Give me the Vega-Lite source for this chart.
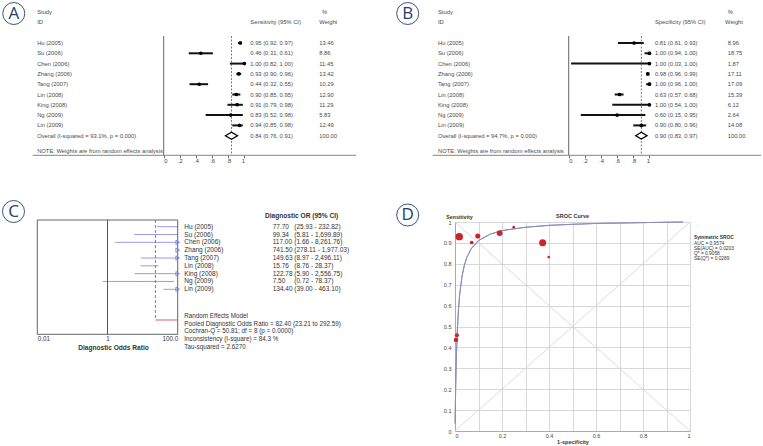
{
"$schema": "https://vega.github.io/schema/vega-lite/v6.json",
"padding": 0,
"background": "white",
"config": {"view": {"stroke": null}, "font": "Liberation Sans"},
"bounds": "flush",
"spacing": 221,
"vconcat": [
{"hconcat": [
{
"width": 380, "height": 154.3,
"data": {"values": [
{"row":1,"study":"Hu (2005)","est":0.95,"lo":0.92,"hi":0.97,"weight":13.46,"ci":"0.95 (0.92, 0.97)","kind":"study"},
{"row":2,"study":"Su (2006)","est":0.46,"lo":0.31,"hi":0.61,"weight":8.86,"ci":"0.46 (0.31, 0.61)","kind":"study"},
{"row":3,"study":"Chen (2006)","est":1.00,"lo":0.82,"hi":1.00,"weight":11.45,"ci":"1.00 (0.82, 1.00)","kind":"study"},
{"row":4,"study":"Zhang (2006)","est":0.93,"lo":0.90,"hi":0.96,"weight":13.42,"ci":"0.93 (0.90, 0.96)","kind":"study"},
{"row":5,"study":"Tang  (2007)","est":0.44,"lo":0.32,"hi":0.55,"weight":10.29,"ci":"0.44 (0.32, 0.55)","kind":"study"},
{"row":6,"study":"Lin (2008)","est":0.90,"lo":0.85,"hi":0.95,"weight":12.90,"ci":"0.90 (0.85, 0.95)","kind":"study"},
{"row":7,"study":"King (2008)","est":0.91,"lo":0.79,"hi":0.98,"weight":11.29,"ci":"0.91 (0.79, 0.98)","kind":"study"},
{"row":8,"study":"Ng (2009)","est":0.83,"lo":0.52,"hi":0.98,"weight":5.83,"ci":"0.83 (0.52, 0.98)","kind":"study"},
{"row":9,"study":"Lin (2009)","est":0.94,"lo":0.85,"hi":0.98,"weight":12.49,"ci":"0.94 (0.85, 0.98)","kind":"study"},
{"row":10,"study":"Overall  (I-squared = 93.1%, p = 0.000)","est":0.84,"lo":0.76,"hi":0.91,"weight":100,"ci":"0.84 (0.76, 0.91)","kind":"pooled"}
]},
"layer": [
{"transform": [{"filter": "datum.kind == 'study'"}],
 "mark": {"type": "rule", "color": "#111", "strokeWidth": 2},
 "encoding": {
  "x": {"field": "lo", "type": "quantitative", "scale": {"domain": [0, 1], "range": [162.7, 243.4], "nice": false, "zero": false},
        "axis": {"values": [0, 0.2, 0.4, 0.6, 0.8, 1], "labelExpr": "datum.value == 0 ? '0' : datum.value == 1 ? '1' : replace(format(datum.value, '.1f'), '0.', '.')", "domain": false, "grid": false, "tickSize": 2.5, "tickColor": "#666", "labelFontSize": 5.8, "labelColor": "#444", "labelPadding": 0, "title": null, "labelOverlap": false}},
  "x2": {"field": "hi"},
  "y": {"field": "row", "type": "quantitative", "scale": {"domain": [1, 10], "range": [42, 134.7], "nice": false, "zero": false}, "axis": null}}},
{"data": {"values": [{}]}, "mark": {"type": "rule", "color": "#555", "strokeWidth": 0.9},
 "encoding": {"x": {"datum": 0}, "y": {"datum": 0.32, "axis": null}, "y2": {"datum": 11.903}}},
{"data": {"values": [{}]}, "mark": {"type": "rule", "color": "#777", "strokeWidth": 0.9},
 "encoding": {"x": {"datum": -1.623}, "x2": {"datum": 2.383}, "y": {"datum": 11.903, "axis": null}}},
{"transform": [{"filter": "datum.kind == 'pooled'"}], "mark": {"type": "rule", "color": "#555", "strokeWidth": 0.8, "strokeDash": [2, 1.5]},
 "encoding": {"x": {"field": "est", "type": "quantitative"}, "y": {"datum": 0.32, "axis": null}, "y2": {"datum": 11.903}}},
{"transform": [{"filter": "datum.kind == 'study'"}],
 "mark": {"type": "point", "shape": "square", "filled": true, "color": "#3a3a3a", "opacity": 1},
 "encoding": {"x": {"field": "est", "type": "quantitative"}, "y": {"field": "row", "type": "quantitative", "axis": null},
  "size": {"field": "weight", "type": "quantitative", "scale": {"domain": [0, 20], "range": [0, 62]}, "legend": null}}},
{"transform": [{"filter": "datum.kind == 'study'"}],
 "mark": {"type": "point", "shape": "circle", "filled": true, "color": "#000", "opacity": 1, "size": 13},
 "encoding": {"x": {"field": "est", "type": "quantitative"}, "y": {"field": "row", "type": "quantitative", "axis": null}}},
{"transform": [{"filter": "datum.kind == 'pooled'"}],
 "mark": {"type": "point", "shape": "M-1,0L0,-0.58L1,0L0,0.58Z", "filled": true, "fill": "white", "stroke": "#000", "strokeWidth": 1.3, "opacity": 1, "size": 146},
 "encoding": {"x": {"field": "est", "type": "quantitative"}, "y": {"field": "row", "type": "quantitative", "axis": null}}},
{"mark": {"type": "text", "align": "left", "baseline": "middle", "fontSize": 5.8, "color": "#4a4a4a"},
 "encoding": {"x": {"datum": -1.568}, "y": {"field": "row", "type": "quantitative", "axis": null}, "text": {"field": "study"}}},
{"mark": {"type": "text", "align": "left", "baseline": "middle", "fontSize": 5.8, "color": "#4a4a4a"},
 "encoding": {"x": {"datum": 1.073}, "y": {"field": "row", "type": "quantitative", "axis": null}, "text": {"field": "ci"}}},
{"mark": {"type": "text", "align": "left", "baseline": "middle", "fontSize": 5.8, "color": "#4a4a4a"},
 "encoding": {"x": {"datum": 1.928}, "y": {"field": "row", "type": "quantitative", "axis": null}, "text": {"field": "weight", "format": ".2f"}}},
{"data": {"values": [{}]}, "mark": {"type": "text", "text": "Study", "align": "left", "baseline": "middle", "fontSize": 5.8, "color": "#4a4a4a"},
 "encoding": {"x": {"datum": -1.568}, "y": {"datum": -2, "axis": null}}},
{"data": {"values": [{}]}, "mark": {"type": "text", "text": "ID", "align": "left", "baseline": "middle", "fontSize": 5.8, "color": "#4a4a4a"},
 "encoding": {"x": {"datum": -1.568}, "y": {"datum": -1, "axis": null}}},
{"data": {"values": [{}]}, "mark": {"type": "text", "text": "Sensitivity (95% CI)", "align": "left", "baseline": "middle", "fontSize": 5.8, "color": "#4a4a4a"},
 "encoding": {"x": {"datum": 1.073}, "y": {"datum": -1, "axis": null}}},
{"data": {"values": [{}]}, "mark": {"type": "text", "text": "%", "align": "left", "baseline": "middle", "fontSize": 5.8, "color": "#4a4a4a"},
 "encoding": {"x": {"datum": 1.962}, "y": {"datum": -2, "axis": null}}},
{"data": {"values": [{}]}, "mark": {"type": "text", "text": "Weight", "align": "left", "baseline": "middle", "fontSize": 5.8, "color": "#4a4a4a"},
 "encoding": {"x": {"datum": 1.928}, "y": {"datum": -1, "axis": null}}},
{"data": {"values": [{}]}, "mark": {"type": "text", "text": "NOTE: Weights are from random effects analysis", "align": "left", "baseline": "middle", "fontSize": 5.8, "color": "#4a4a4a"},
 "encoding": {"x": {"datum": -1.568}, "y": {"datum": 11.5, "axis": null}}},
{"data": {"values": [{}]}, "mark": {"type": "point", "shape": "circle", "filled": false, "stroke": "#23406e", "strokeWidth": 0.9, "opacity": 1, "size": 484},
 "encoding": {"x": {"datum": -1.858}, "y": {"datum": -1.864, "axis": null}}},
{"data": {"values": [{}]}, "mark": {"type": "text", "text": "A", "font": "Open Sans", "align": "center", "baseline": "middle", "fontSize": 17, "color": "#23406e", "dy": 0.5},
 "encoding": {"x": {"datum": -1.858}, "y": {"datum": -1.864, "axis": null}}}
]
},
{
"width": 383, "height": 154.3,
"data": {"values": [
{"row":1,"study":"Hu (2005)","est":0.81,"lo":0.61,"hi":0.93,"weight":8.96,"ci":"0.81 (0.61, 0.93)","kind":"study"},
{"row":2,"study":"Su (2006)","est":1.00,"lo":0.94,"hi":1.00,"weight":18.75,"ci":"1.00 (0.94, 1.00)","kind":"study"},
{"row":3,"study":"Chen (2006)","est":1.00,"lo":0.03,"hi":1.00,"weight":1.87,"ci":"1.00 (0.03, 1.00)","kind":"study"},
{"row":4,"study":"Zhang (2006)","est":0.98,"lo":0.96,"hi":0.99,"weight":17.11,"ci":"0.98 (0.96, 0.99)","kind":"study"},
{"row":5,"study":"Tang  (2007)","est":1.00,"lo":0.96,"hi":1.00,"weight":17.09,"ci":"1.00 (0.96, 1.00)","kind":"study"},
{"row":6,"study":"Lin (2008)","est":0.63,"lo":0.57,"hi":0.68,"weight":15.39,"ci":"0.63 (0.57, 0.68)","kind":"study"},
{"row":7,"study":"King (2008)","est":1.00,"lo":0.54,"hi":1.00,"weight":6.12,"ci":"1.00 (0.54, 1.00)","kind":"study"},
{"row":8,"study":"Ng (2009)","est":0.60,"lo":0.15,"hi":0.95,"weight":2.64,"ci":"0.60 (0.15, 0.95)","kind":"study"},
{"row":9,"study":"Lin (2009)","est":0.90,"lo":0.80,"hi":0.96,"weight":14.08,"ci":"0.90 (0.80, 0.96)","kind":"study"},
{"row":10,"study":"Overall  (I-squared = 94.7%, p = 0.000)","est":0.90,"lo":0.83,"hi":0.97,"weight":100,"ci":"0.90 (0.83, 0.97)","kind":"pooled"}
]},
"layer": [
{"transform": [{"filter": "datum.kind == 'study'"}],
 "mark": {"type": "rule", "color": "#111", "strokeWidth": 2},
 "encoding": {
  "x": {"field": "lo", "type": "quantitative", "scale": {"domain": [0, 1], "range": [187.7, 268.4], "nice": false, "zero": false},
        "axis": {"values": [0, 0.2, 0.4, 0.6, 0.8, 1], "labelExpr": "datum.value == 0 ? '0' : datum.value == 1 ? '1' : replace(format(datum.value, '.1f'), '0.', '.')", "domain": false, "grid": false, "tickSize": 2.5, "tickColor": "#666", "labelFontSize": 5.8, "labelColor": "#444", "labelPadding": 0, "title": null, "labelOverlap": false}},
  "x2": {"field": "hi"},
  "y": {"field": "row", "type": "quantitative", "scale": {"domain": [1, 10], "range": [42, 134.7], "nice": false, "zero": false}, "axis": null}}},
{"data": {"values": [{}]}, "mark": {"type": "rule", "color": "#555", "strokeWidth": 0.9},
 "encoding": {"x": {"datum": 0}, "y": {"datum": 0.32, "axis": null}, "y2": {"datum": 11.903}}},
{"data": {"values": [{}]}, "mark": {"type": "rule", "color": "#777", "strokeWidth": 0.9},
 "encoding": {"x": {"datum": -1.685}, "x2": {"datum": 2.383}, "y": {"datum": 11.903, "axis": null}}},
{"transform": [{"filter": "datum.kind == 'pooled'"}], "mark": {"type": "rule", "color": "#555", "strokeWidth": 0.8, "strokeDash": [2, 1.5]},
 "encoding": {"x": {"field": "est", "type": "quantitative"}, "y": {"datum": 0.32, "axis": null}, "y2": {"datum": 11.903}}},
{"transform": [{"filter": "datum.kind == 'study'"}],
 "mark": {"type": "point", "shape": "square", "filled": true, "color": "#747474", "opacity": 1},
 "encoding": {"x": {"field": "est", "type": "quantitative"}, "y": {"field": "row", "type": "quantitative", "axis": null},
  "size": {"field": "weight", "type": "quantitative", "scale": {"domain": [0, 20], "range": [0, 92]}, "legend": null}}},
{"transform": [{"filter": "datum.kind == 'study'"}],
 "mark": {"type": "point", "shape": "circle", "filled": true, "color": "#000", "opacity": 1, "size": 14},
 "encoding": {"x": {"field": "est", "type": "quantitative"}, "y": {"field": "row", "type": "quantitative", "axis": null}}},
{"transform": [{"filter": "datum.kind == 'pooled'"}],
 "mark": {"type": "point", "shape": "M-1,0L0,-0.6L1,0L0,0.6Z", "filled": true, "fill": "white", "stroke": "#000", "strokeWidth": 1.3, "opacity": 1, "size": 128},
 "encoding": {"x": {"field": "est", "type": "quantitative"}, "y": {"field": "row", "type": "quantitative", "axis": null}}},
{"mark": {"type": "text", "align": "left", "baseline": "middle", "fontSize": 5.8, "color": "#4a4a4a"},
 "encoding": {"x": {"datum": -1.62}, "y": {"field": "row", "type": "quantitative", "axis": null}, "text": {"field": "study"}}},
{"mark": {"type": "text", "align": "left", "baseline": "middle", "fontSize": 5.8, "color": "#4a4a4a"},
 "encoding": {"x": {"datum": 1.069}, "y": {"field": "row", "type": "quantitative", "axis": null}, "text": {"field": "ci"}}},
{"mark": {"type": "text", "align": "left", "baseline": "middle", "fontSize": 5.8, "color": "#4a4a4a"},
 "encoding": {"x": {"datum": 1.97}, "y": {"field": "row", "type": "quantitative", "axis": null}, "text": {"field": "weight", "format": ".2f"}}},
{"data": {"values": [{}]}, "mark": {"type": "text", "text": "Study", "align": "left", "baseline": "middle", "fontSize": 5.8, "color": "#4a4a4a"},
 "encoding": {"x": {"datum": -1.62}, "y": {"datum": -2, "axis": null}}},
{"data": {"values": [{}]}, "mark": {"type": "text", "text": "ID", "align": "left", "baseline": "middle", "fontSize": 5.8, "color": "#4a4a4a"},
 "encoding": {"x": {"datum": -1.62}, "y": {"datum": -1, "axis": null}}},
{"data": {"values": [{}]}, "mark": {"type": "text", "text": "Specificity (95% CI)", "align": "left", "baseline": "middle", "fontSize": 5.8, "color": "#4a4a4a"},
 "encoding": {"x": {"datum": 1.069}, "y": {"datum": -1, "axis": null}}},
{"data": {"values": [{}]}, "mark": {"type": "text", "text": "%", "align": "left", "baseline": "middle", "fontSize": 5.8, "color": "#4a4a4a"},
 "encoding": {"x": {"datum": 1.97}, "y": {"datum": -2, "axis": null}}},
{"data": {"values": [{}]}, "mark": {"type": "text", "text": "Weight", "align": "left", "baseline": "middle", "fontSize": 5.8, "color": "#4a4a4a"},
 "encoding": {"x": {"datum": 1.937}, "y": {"datum": -1, "axis": null}}},
{"data": {"values": [{}]}, "mark": {"type": "text", "text": "NOTE: Weights are from random effects analysis", "align": "left", "baseline": "middle", "fontSize": 5.8, "color": "#4a4a4a"},
 "encoding": {"x": {"datum": -1.62}, "y": {"datum": 11.5, "axis": null}}},
{"data": {"values": [{}]}, "mark": {"type": "point", "shape": "circle", "filled": false, "stroke": "#23406e", "strokeWidth": 0.9, "opacity": 1, "size": 484},
 "encoding": {"x": {"datum": -1.995}, "y": {"datum": -1.864, "axis": null}}},
{"data": {"values": [{}]}, "mark": {"type": "text", "text": "B", "font": "Open Sans", "align": "center", "baseline": "middle", "fontSize": 17, "color": "#23406e", "dy": 0.5},
 "encoding": {"x": {"datum": -1.995}, "y": {"datum": -1.864, "axis": null}}}
]
}
], "spacing": 0, "bounds": "flush"},
{"hconcat": [
{
"width": 453.3, "height": 112.3,
"data": {"values": [
{"row":1,"study":"Hu (2005)","or":77.70,"lo":25.93,"hi":232.82,"w":0.34,"ci":"(25.93 - 232.82)"},
{"row":2,"study":"Su (2006)","or":99.34,"lo":5.81,"hi":1699.89,"w":0.21,"ci":"(5.81 - 1,699.89)"},
{"row":3,"study":"Chen (2006)","or":117.00,"lo":1.66,"hi":8261.76,"w":0.14,"ci":"(1.66 - 8,261.76)"},
{"row":4,"study":"Zhang (2006)","or":741.50,"lo":278.11,"hi":1977.03,"w":0.35,"ci":"(278.11 - 1,977.03)"},
{"row":5,"study":"Tang  (2007)","or":149.63,"lo":8.97,"hi":2496.11,"w":0.21,"ci":"(8.97 - 2,496.11)"},
{"row":6,"study":"Lin (2008)","or":15.76,"lo":8.76,"hi":28.37,"w":0.37,"ci":"(8.76 - 28.37)"},
{"row":7,"study":"King (2008)","or":122.78,"lo":5.90,"hi":2556.75,"w":0.20,"ci":"(5.90 - 2,556.75)"},
{"row":8,"study":"Ng (2009)","or":7.50,"lo":0.72,"hi":78.37,"w":0.25,"ci":"(0.72 - 78.37)"},
{"row":9,"study":"Lin (2009)","or":134.40,"lo":39.00,"hi":463.10,"w":0.33,"ci":"(39.00 - 463.10)"}
]},
"layer": [
{"mark": {"type": "rule", "color": "#8e90e6", "strokeWidth": 0.9},
 "encoding": {
  "x": {"field": "lo", "type": "quantitative", "scale": {"type": "log", "domain": [0.01, 100], "range": [36.3, 176.7], "clamp": true, "nice": false},
        "axis": {"values": [0.01, 1, 100], "labelExpr": "datum.value >= 100 ? '100.0' : datum.value >= 1 ? '1' : '0.01'", "labelFlush": true, "labelOverlap": false, "domain": false, "ticks": false, "grid": false, "labelFontSize": 6.3, "labelColor": "#333", "labelPadding": 1.5, "title": "Diagnostic Odds Ratio", "titleFontSize": 6.6, "titleFontWeight": "bold", "titleColor": "#333", "titlePadding": 2, "titleX": 112}},
  "x2": {"field": "hi"},
  "y": {"field": "row", "type": "quantitative", "scale": {"domain": [1, 9], "range": [4.7, 67.3], "nice": false, "zero": false}, "axis": null}}},
{"data": {"values": [{}]}, "mark": {"type": "rect", "fill": "transparent", "stroke": "#555", "strokeWidth": 0.9},
 "encoding": {"x": {"datum": 0.01}, "x2": {"datum": 100}, "y": {"datum": 0.1438, "axis": null}, "y2": {"datum": 14.751}}},
{"data": {"values": [{}]}, "mark": {"type": "rule", "color": "#444", "strokeWidth": 0.9},
 "encoding": {"x": {"datum": 1}, "y": {"datum": 0.1438, "axis": null}, "y2": {"datum": 14.751}}},
{"data": {"values": [{"pooled": 82.40, "lo": 23.21, "hi": 292.59}]}, "mark": {"type": "rule", "color": "#d8485a", "strokeWidth": 0.9, "strokeDash": [3, 2]},
 "encoding": {"x": {"field": "lo", "type": "quantitative"}, "y": {"datum": 0.1438, "axis": null}, "y2": {"datum": 12.923}}},
{"data": {"values": [{"pooled": 82.40, "lo": 23.21, "hi": 292.59}]}, "mark": {"type": "rule", "color": "#d8485a", "strokeWidth": 0.9},
 "encoding": {"x": {"field": "lo", "type": "quantitative"}, "x2": {"field": "hi"}, "y": {"datum": 12.923, "axis": null}}},
{"transform": [{"filter": "datum.or <= 100"}],
 "mark": {"type": "point", "shape": "circle", "filled": true, "color": "#c3242c", "opacity": 1},
 "encoding": {"x": {"field": "or", "type": "quantitative"}, "y": {"field": "row", "type": "quantitative", "axis": null},
  "size": {"field": "w", "type": "quantitative", "scale": {"domain": [0, 0.37], "range": [0, 36]}, "legend": null}}},
{"transform": [{"filter": "datum.or > 100"}],
 "mark": {"type": "point", "shape": "triangle-right", "filled": false, "stroke": "#7c80dc", "strokeWidth": 0.9, "opacity": 1, "size": 18},
 "encoding": {"x": {"field": "or", "type": "quantitative"}, "y": {"field": "row", "type": "quantitative", "axis": null}}},
{"mark": {"type": "text", "align": "left", "baseline": "middle", "fontSize": 6.5, "color": "#333", "dx": 6.6},
 "encoding": {"x": {"datum": 100}, "y": {"field": "row", "type": "quantitative", "axis": null}, "text": {"field": "study"}}},
{"mark": {"type": "text", "align": "left", "baseline": "middle", "fontSize": 6.5, "color": "#333", "dx": 95},
 "encoding": {"x": {"datum": 100}, "y": {"field": "row", "type": "quantitative", "axis": null}, "text": {"field": "or", "format": ".2f"}}},
{"mark": {"type": "text", "align": "left", "baseline": "middle", "fontSize": 6.5, "color": "#333", "dx": 116.6},
 "encoding": {"x": {"datum": 100}, "y": {"field": "row", "type": "quantitative", "axis": null}, "text": {"field": "ci"}}},
{"data": {"values": [{}]}, "mark": {"type": "text", "text": "Diagnostic OR (95% CI)", "fontWeight": "bold", "align": "left", "baseline": "middle", "fontSize": 6.6, "color": "#333", "dx": 87.3},
 "encoding": {"x": {"datum": 100}, "y": {"datum": -0.367, "axis": null}}},
{"data": {"values": [{}]}, "mark": {"type": "text", "text": ["Random Effects Model", "Pooled Diagnostic Odds Ratio = 82.40 (23.21 to 292.59)", "Cochran-Q = 50.81; df =  8 (p = 0.0000)", "Inconsistency (I-square) = 84.3 %", "Tau-squared = 2.6270"], "lineHeight": 7.6, "align": "left", "baseline": "top", "fontSize": 6.3, "color": "#333", "dx": 6.6},
 "encoding": {"x": {"datum": 100}, "y": {"datum": 12.05, "axis": null}}},
{"data": {"values": [{}]}, "mark": {"type": "point", "shape": "circle", "filled": false, "stroke": "#23406e", "strokeWidth": 0.9, "opacity": 1, "size": 484},
 "encoding": {"x": {"datum": 0.01}, "xOffset": {"value": -23.8}, "y": {"datum": -0.943, "axis": null}}},
{"data": {"values": [{}]}, "mark": {"type": "text", "text": "C", "font": "Open Sans", "align": "center", "baseline": "middle", "fontSize": 17, "color": "#23406e", "dx": -23.8, "dy": 0.5},
 "encoding": {"x": {"datum": 0.01}, "y": {"datum": -0.943, "axis": null}}}
]
},
{
"width": 235, "height": 209,
"resolve": {"axis": {"x": "independent", "y": "independent"}},
"layer": [
{"data": {"values": [
{"fpr":0.0004,"sens":0.036},{"fpr":0.001,"sens":0.085},{"fpr":0.002,"sens":0.156},{"fpr":0.003,"sens":0.218},
{"fpr":0.005,"sens":0.317},{"fpr":0.0075,"sens":0.411},{"fpr":0.01,"sens":0.483},{"fpr":0.015,"sens":0.585},
{"fpr":0.02,"sens":0.654},{"fpr":0.03,"sens":0.741},{"fpr":0.04,"sens":0.794},{"fpr":0.05,"sens":0.830},
{"fpr":0.07,"sens":0.874},{"fpr":0.1,"sens":0.911},{"fpr":0.15,"sens":0.942},{"fpr":0.2,"sens":0.959},
{"fpr":0.3,"sens":0.975},{"fpr":0.4,"sens":0.984},{"fpr":0.5,"sens":0.989},{"fpr":0.6,"sens":0.993},
{"fpr":0.7,"sens":0.995},{"fpr":0.8,"sens":0.997},{"fpr":0.9,"sens":0.999},{"fpr":0.97,"sens":1.0}
]},
 "mark": {"type": "line", "color": "#8b8fb8", "strokeWidth": 1},
 "encoding": {
  "x": {"field": "fpr", "type": "quantitative", "scale": {"domain": [0, 1], "nice": false, "zero": false},
        "axis": {"values": [0, 0.1, 0.2, 0.3, 0.4, 0.5, 0.6, 0.7, 0.8, 0.9, 1], "grid": true, "gridColor": "#d4d4d4", "gridWidth": 0.9, "gridOpacity": 1, "labelExpr": "round(datum.value * 10) % 2 == 0 ? format(datum.value, '~g') : ''", "ticks": false, "domainColor": "#aaaaaa", "labelFontSize": 5.5, "labelColor": "#444", "labelPadding": 2, "labelOverlap": false, "title": "1-specificity", "titleFontSize": 5.5, "titleFontWeight": "bold", "titleColor": "#333", "titlePadding": 1}},
  "y": {"field": "sens", "type": "quantitative", "scale": {"domain": [0, 1], "nice": false, "zero": false},
        "axis": {"values": [0, 0.1, 0.2, 0.3, 0.4, 0.5, 0.6, 0.7, 0.8, 0.9, 1], "grid": true, "gridColor": "#d4d4d4", "gridWidth": 0.9, "gridOpacity": 1, "labelExpr": "format(datum.value, '~g')", "ticks": false, "domainColor": "#aaaaaa", "labelFontSize": 5.5, "labelColor": "#444", "labelPadding": 4, "labelOverlap": false, "title": "Sensitivity", "titleAngle": 0, "titleAlign": "left", "titleBaseline": "middle", "titleX": -9.3, "titleY": -6, "titleFontSize": 5.3, "titleFontWeight": "bold", "titleColor": "#333"}}}},
{"data": {"values": [{}]}, "mark": {"type": "rule", "color": "#d2d2d2", "strokeWidth": 0.8},
 "encoding": {"x": {"datum": 0, "axis": null}, "y": {"datum": 0, "axis": null}, "x2": {"datum": 1}, "y2": {"datum": 1}}},
{"data": {"values": [{}]}, "mark": {"type": "rule", "color": "#d2d2d2", "strokeWidth": 0.8},
 "encoding": {"x": {"datum": 0, "axis": null}, "y": {"datum": 1, "axis": null}, "x2": {"datum": 1}, "y2": {"datum": 0}}},
{"data": {"values": [
{"fpr":0.0004,"sens":0.036},{"fpr":0.001,"sens":0.085},{"fpr":0.002,"sens":0.156},{"fpr":0.003,"sens":0.218},
{"fpr":0.005,"sens":0.317},{"fpr":0.0075,"sens":0.411},{"fpr":0.01,"sens":0.483},{"fpr":0.015,"sens":0.585},
{"fpr":0.02,"sens":0.654},{"fpr":0.03,"sens":0.741},{"fpr":0.04,"sens":0.794},{"fpr":0.05,"sens":0.830},
{"fpr":0.07,"sens":0.874},{"fpr":0.1,"sens":0.911},{"fpr":0.15,"sens":0.942},{"fpr":0.2,"sens":0.959},
{"fpr":0.3,"sens":0.975},{"fpr":0.4,"sens":0.984},{"fpr":0.5,"sens":0.989},{"fpr":0.6,"sens":0.993},
{"fpr":0.7,"sens":0.995},{"fpr":0.8,"sens":0.997},{"fpr":0.9,"sens":0.999},{"fpr":0.97,"sens":1.0}
]},
 "mark": {"type": "line", "color": "#8b8fb8", "strokeWidth": 1},
 "encoding": {"x": {"field": "fpr", "type": "quantitative", "axis": null}, "y": {"field": "sens", "type": "quantitative", "axis": null}}},
{"data": {"values": [
{"study":"Hu (2005)","fpr":0.19,"sens":0.947,"w":55},
{"study":"Su (2006)","fpr":0.008,"sens":0.458,"w":28},
{"study":"Chen (2006)","fpr":0.25,"sens":0.975,"w":12},
{"study":"Zhang (2006)","fpr":0.018,"sens":0.93,"w":90},
{"study":"Tang (2007)","fpr":0.004,"sens":0.436,"w":32},
{"study":"Lin (2008)","fpr":0.373,"sens":0.901,"w":80},
{"study":"King (2008)","fpr":0.071,"sens":0.902,"w":22},
{"study":"Ng (2009)","fpr":0.399,"sens":0.832,"w":12},
{"study":"Lin (2009)","fpr":0.097,"sens":0.933,"w":42}
]},
 "mark": {"type": "point", "shape": "circle", "filled": true, "color": "#cc2229", "opacity": 1},
 "encoding": {"x": {"field": "fpr", "type": "quantitative", "axis": null}, "y": {"field": "sens", "type": "quantitative", "axis": null},
  "size": {"field": "w", "type": "quantitative", "scale": {"domain": [0, 100], "range": [0, 40]}, "legend": null}}},
{"data": {"values": [{}]}, "mark": {"type": "text", "text": "SROC Curve", "fontWeight": "bold", "align": "center", "baseline": "middle", "fontSize": 5.5, "color": "#333"},
 "encoding": {"x": {"datum": 0.5, "axis": null}, "y": {"datum": 1.0287, "axis": null}}},
{"data": {"values": [{}]}, "mark": {"type": "text", "text": "Symmetric SROC", "fontWeight": "bold", "align": "left", "baseline": "middle", "fontSize": 4.8, "color": "#333"},
 "encoding": {"x": {"datum": 1.017, "axis": null}, "y": {"datum": 0.925, "axis": null}}},
{"data": {"values": [{}]}, "mark": {"type": "text", "text": ["AUC = 0.9574", "SE(AUC) = 0.0203", "Q* = 0.9058", "SE(Q*) = 0.0289"], "lineHeight": 5.2, "align": "left", "baseline": "top", "fontSize": 4.8, "color": "#333"},
 "encoding": {"x": {"datum": 1.017, "axis": null}, "y": {"datum": 0.911, "axis": null}}},
{"data": {"values": [{}]}, "mark": {"type": "point", "shape": "circle", "filled": false, "stroke": "#23406e", "strokeWidth": 0.9, "opacity": 1, "size": 484},
 "encoding": {"x": {"datum": -0.2013, "axis": null}, "y": {"datum": 1.0335, "axis": null}}},
{"data": {"values": [{}]}, "mark": {"type": "text", "text": "D", "font": "Open Sans", "align": "center", "baseline": "middle", "fontSize": 17, "color": "#23406e", "dy": 0.5},
 "encoding": {"x": {"datum": -0.2013, "axis": null}, "y": {"datum": 1.0335, "axis": null}}}
]
}
], "spacing": 0, "bounds": "flush"}
]
}
